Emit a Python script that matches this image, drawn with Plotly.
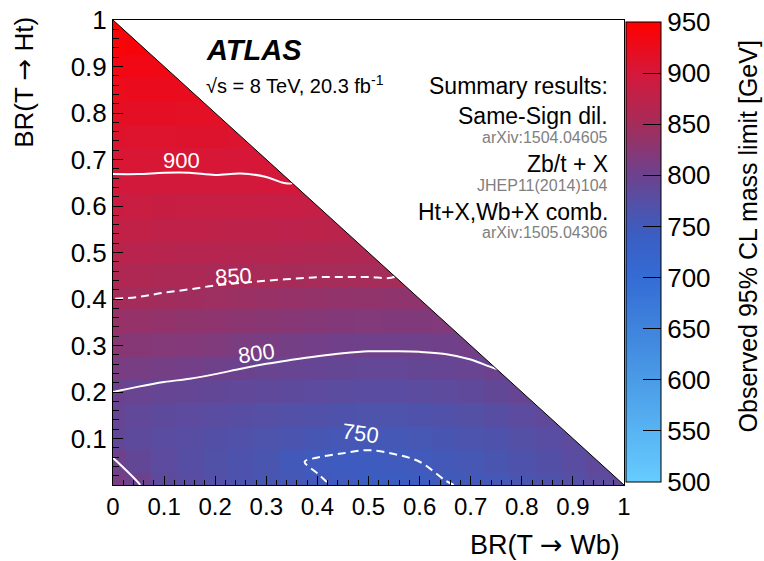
import plotly.graph_objects as go

# grid centres (BR(T->Wb) on x, BR(T->Ht) on y)
br_wb = [round(0.05 * i, 2) for i in range(21)]
br_ht = [round(0.05 * j, 2) for j in range(21)]

# observed mass limits [GeV], one row per BR(T->Ht), starting at BR(T->Wb)=0
lim_y000 = [810, 801, 785, 778, 772, 766, 760, 756, 752, 748, 742, 742, 745, 749, 752, 756, 762, 768, 775, 783, 790]
lim_y005 = [802, 790, 782, 776, 771, 766, 762, 752, 748, 746, 745, 747, 750, 754, 758, 762, 768, 774, 780, 786]
lim_y010 = [790, 785, 780, 777, 774, 770, 767, 763, 759, 757, 755, 756, 758, 761, 764, 768, 773, 778, 783]
lim_y015 = [793, 788, 785, 782, 780, 777, 775, 772, 770, 768, 767, 767, 768, 770, 773, 777, 782, 787]
lim_y020 = [800, 797, 794, 792, 790, 788, 786, 784, 782, 781, 780, 780, 781, 783, 786, 790, 795]
lim_y025 = [812, 810, 808, 806, 803, 800, 797, 795, 793, 792, 791, 791, 792, 793, 796, 800]
lim_y030 = [825, 823, 821, 819, 817, 814, 811, 808, 806, 804, 803, 803, 803, 804, 806]
lim_y035 = [838, 836, 834, 832, 830, 828, 826, 824, 822, 820, 819, 818, 818, 819]
lim_y040 = [850, 849, 847, 845, 843, 841, 839, 837, 835, 834, 833, 832, 832]
lim_y045 = [861, 860, 858, 857, 855, 854, 853, 852, 851, 851, 851, 851]
lim_y050 = [871, 870, 869, 868, 867, 866, 865, 864, 863, 862, 861]
lim_y055 = [880, 879, 878, 877, 876, 875, 875, 874, 873, 872]
lim_y060 = [889, 888, 887, 886, 885, 885, 884, 884, 883]
lim_y065 = [897, 897, 897, 897, 898, 898, 899, 900.5]
lim_y070 = [905, 905, 904, 904, 904, 903, 903]
lim_y075 = [912, 911, 911, 910, 910, 909]
lim_y080 = [919, 918, 918, 917, 917]
lim_y085 = [926, 925, 925, 924]
lim_y090 = [934, 933, 932]
lim_y095 = [942, 941]
lim_y100 = [950]

rows = [lim_y000, lim_y005, lim_y010, lim_y015, lim_y020, lim_y025, lim_y030,
        lim_y035, lim_y040, lim_y045, lim_y050, lim_y055, lim_y060, lim_y065,
        lim_y070, lim_y075, lim_y080, lim_y085, lim_y090, lim_y095, lim_y100]
Z = [r + [None] * (len(br_wb) - len(r)) for r in rows]

cbar_ticks = list(range(500, 951, 50))
x_ticks = [round(0.1 * i, 1) for i in range(11)]
x_ticktext = ["0", "0.1", "0.2", "0.3", "0.4", "0.5", "0.6", "0.7", "0.8", "0.9", "1"]
y_ticks = [round(0.1 * i, 1) for i in range(1, 11)]
y_ticktext = ["0.1", "0.2", "0.3", "0.4", "0.5", "0.6", "0.7", "0.8", "0.9", "1"]

contour_solid_levels = (800, 900)
contour_dash_levels = (750, 850)

FONT = "Liberation Sans, Arial, Helvetica, sans-serif"
ARROW = '<span style="font-family:DejaVu Sans">→</span>'

cscale = [
    [0.0, "#66ccff"],
    [0.222, "#4a9be6"],
    [0.444, "#346cd4"],
    [0.533, "#3a5ec4"],
    [0.578, "#4856b2"],
    [0.667, "#6c428e"],
    [0.778, "#a52c5a"],
    [0.889, "#d5183a"],
    [1.0, "#ff0000"],
]

fig = go.Figure()
fig.add_trace(go.Heatmap(
    x=br_wb, y=br_ht, z=Z, zmin=500, zmax=950, colorscale=cscale,
    hoverinfo="skip",
    colorbar=dict(
        x=1.003, xanchor="left", xpad=0, ypad=0,
        y=0.501, yanchor="middle", lenmode="pixels", len=460,
        thickness=35, outlinewidth=1, outlinecolor="black",
        ticks="inside", ticklen=18, tickwidth=1, tickcolor="black",
        tickvals=cbar_ticks, tickfont=dict(family=FONT, size=26, color="black"),
    ),
))
fig.add_trace(go.Contour(
    x=br_wb, y=br_ht, z=Z, showscale=False, hoverinfo="skip",
    contours=dict(coloring="none", start=contour_solid_levels[0],
                  end=contour_solid_levels[1], size=100, showlabels=False),
    line=dict(color="white", width=2),
))
fig.add_trace(go.Contour(
    x=br_wb, y=br_ht, z=Z, showscale=False, hoverinfo="skip",
    contours=dict(coloring="none", start=contour_dash_levels[0],
                  end=contour_dash_levels[1], size=100, showlabels=False),
    line=dict(color="white", width=2, dash="8px,5px"),
))
# white mask for the unphysical region BR(Wb)+BR(Ht) > 1
fig.add_trace(go.Scatter(
    x=[0, 1, 1, 0], y=[1, 1, 0, 1], fill="toself", fillcolor="white",
    line=dict(width=0, color="white"), mode="lines", hoverinfo="skip", showlegend=False,
))
fig.add_trace(go.Scatter(
    x=[0, 1], y=[1, 0], mode="lines", line=dict(color="black", width=1),
    hoverinfo="skip", showlegend=False,
))

axis_common = dict(
    range=[0, 1], showgrid=False, zeroline=False, showline=True, mirror=True,
    linecolor="black", linewidth=1, ticks="inside", tickcolor="black",
)
fig.update_xaxes(**axis_common, tickvals=x_ticks, ticktext=x_ticktext, ticklen=9,
                 tickfont=dict(family=FONT, size=24, color="black"),
                 minor=dict(dtick=0.02, ticks="inside", ticklen=5, tickcolor="black", showgrid=False))
fig.update_yaxes(**axis_common, tickvals=y_ticks, ticktext=y_ticktext, ticklen=10,
                 tickfont=dict(family=FONT, size=26, color="black"),
                 minor=dict(dtick=0.02, ticks="inside", ticklen=6, tickcolor="black", showgrid=False))

ann = []
def add(text, x, y, size, color="black", xanchor="center", angle=0, xref="paper", yref="paper"):
    ann.append(dict(text=text, x=x, y=y, xref=xref, yref=yref, showarrow=False,
                    xanchor=xanchor, yanchor="middle", textangle=angle,
                    font=dict(family=FONT, size=size, color=color)))

add("<b><i>ATLAS</i></b>", 0.178, 0.935, 29, xanchor="left")
add("√s = 8 TeV, 20.3 fb<sup>-1</sup>", 0.178, 0.862, 20, xanchor="left")
add("Summary results:", 0.972, 0.857, 23, xanchor="right")
add("Same-Sign dil.", 0.972, 0.793, 23, xanchor="right")
add("arXiv:1504.04605", 0.972, 0.748, 16, color="#808080", xanchor="right")
add("Zb/t + X", 0.972, 0.690, 23, xanchor="right")
add("JHEP11(2014)104", 0.972, 0.645, 16, color="#808080", xanchor="right")
add("Ht+X,Wb+X comb.", 0.972, 0.587, 23, xanchor="right")
add("arXiv:1505.04306", 0.972, 0.544, 16, color="#808080", xanchor="right")

# contour labels
add("900", 0.135, 0.697, 22, color="white", xref="x", yref="y")
add("850", 0.235, 0.448, 22, color="white", angle=-3, xref="x", yref="y")
add("800", 0.28, 0.283, 22, color="white", angle=-8, xref="x", yref="y")
add("750", 0.485, 0.11, 22, color="white", angle=8, xref="x", yref="y")

# axis titles
add("BR(T " + ARROW + " Wb)", 0.996, -0.129, 27, xanchor="right")
add("BR(T " + ARROW + " Ht)", -0.174, 0.865, 26, angle=-90)
add("Observed 95% CL mass limit [GeV]", 1.243, 0.535, 25, angle=-90)

fig.update_layout(
    width=764, height=561,
    margin=dict(l=113, r=140, t=20, b=76, autoexpand=False),
    plot_bgcolor="white", paper_bgcolor="white",
    showlegend=False, annotations=ann,
)

fig.write_html("out.html", config={"displayModeBar": False},
               post_script="document.body.style.margin='0';")
